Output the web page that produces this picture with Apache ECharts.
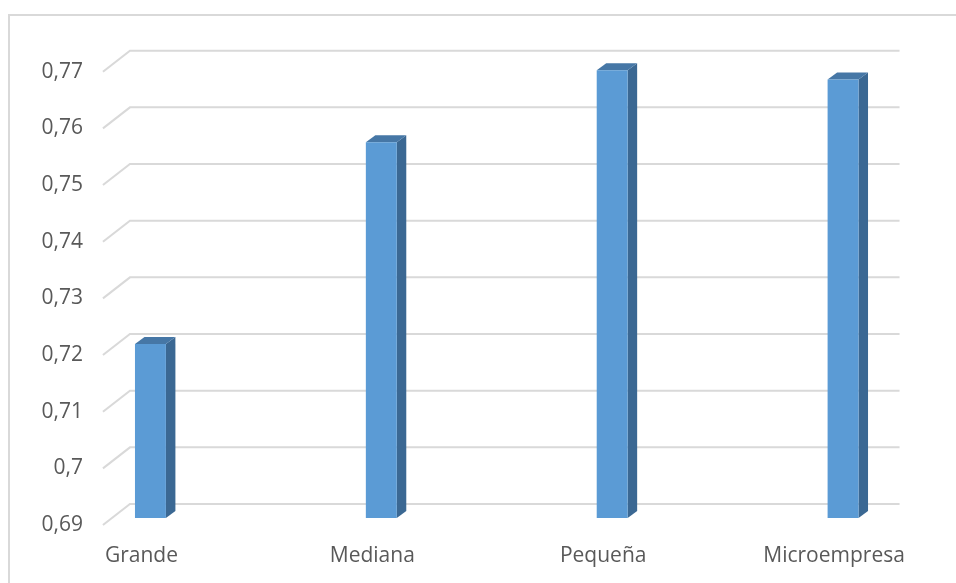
<!DOCTYPE html>
<html>
<head>
<meta charset="utf-8">
<script src="https://cdn.jsdelivr.net/npm/echarts@6/dist/echarts.min.js"></script>
<style>
  html, body { margin: 0; padding: 0; background: #ffffff; }
  #chart { width: 956px; height: 583px; }
</style>
</head>
<body>
<div id="chart"></div>
<script>
// Company size categories and their index values
const categories = ['Grande', 'Mediana', 'Pequeña', 'Microempresa'];
const values = [0.7207, 0.7563, 0.769, 0.7674];
const yTicks = [0.69, 0.70, 0.71, 0.72, 0.73, 0.74, 0.75, 0.76, 0.77];

const FONT = '"Open Sans", Lato, sans-serif';
const LABEL_COLOR = '#595959';
const GRID_COLOR = '#d9d9d9';

// 3D depth offsets (pixels): back wall and bar depth
const WALL_DX = 27, WALL_DY = -21;
const BAR_SHIFT_X = 9, BAR_SHIFT_Y = -7;
const BAR_DX = 9.5, BAR_DY = -7;

const chart = echarts.init(document.getElementById('chart'), null, { renderer: 'canvas' });

function gridLineItem(params, api) {
  const v = api.value(1);
  const band = api.size([1, 0])[0];
  const pL = api.coord([0, v]);
  const pR = api.coord([categories.length - 1, v]);
  const xL = pL[0] - band / 6;
  const xR = pR[0] + band / 6;
  const y = pL[1];
  return {
    type: 'polyline',
    shape: { points: [[xL, y], [xL + WALL_DX, y + WALL_DY], [xR + WALL_DX, y + WALL_DY]] },
    style: { stroke: GRID_COLOR, lineWidth: 2, fill: null },
    silent: true
  };
}

function barItem(params, api) {
  const i = api.value(0);
  const v = api.value(1);
  const band = api.size([1, 0])[0];
  const w = band * 0.134;
  const base = api.coord([i, yTicks[0]]);
  const top = api.coord([i, v]);
  const cx = base[0] + BAR_SHIFT_X;
  const x0 = cx - w / 2, x1 = cx + w / 2;
  const yb = base[1] + BAR_SHIFT_Y;
  const yt = top[1] + BAR_SHIFT_Y;
  return {
    type: 'group',
    children: [
      {
        type: 'polygon',
        shape: { points: [[x1, yt], [x1 + BAR_DX, yt + BAR_DY], [x1 + BAR_DX, yb + BAR_DY], [x1, yb]] },
        style: { fill: '#3b6893' }
      },
      {
        type: 'polygon',
        shape: { points: [[x0, yt], [x0 + BAR_DX, yt + BAR_DY], [x1 + BAR_DX, yt + BAR_DY], [x1, yt]] },
        style: { fill: '#4677a6' }
      },
      {
        type: 'rect',
        shape: { x: x0, y: yt, width: w, height: yb - yt },
        style: { fill: '#5b9bd5' }
      }
    ]
  };
}

chart.setOption({
  animation: false,
  backgroundColor: '#ffffff',
  grid: { left: 26, right: 6.5, top: 71.7, bottom: 58 },
  xAxis: {
    type: 'category',
    data: categories,
    axisLine: { show: false },
    axisTick: { show: false },
    axisLabel: { margin: 21, color: LABEL_COLOR, fontSize: 21, fontFamily: FONT }
  },
  yAxis: {
    type: 'value',
    min: 0.69,
    max: 0.77,
    interval: 0.01,
    offset: -57,
    axisLine: { show: false },
    axisTick: { show: false },
    splitLine: { show: false },
    axisLabel: {
      margin: 0,
      color: LABEL_COLOR,
      fontSize: 21,
      fontFamily: FONT,
      formatter: v => String(Number(v.toFixed(2))).replace('.', ',')
    }
  },
  graphic: [
    { type: 'line', shape: { x1: 8, y1: 15, x2: 956, y2: 15 }, style: { stroke: GRID_COLOR, lineWidth: 2 }, silent: true },
    { type: 'line', shape: { x1: 9, y1: 15, x2: 9, y2: 583 }, style: { stroke: GRID_COLOR, lineWidth: 2 }, silent: true }
  ],
  series: [
    {
      type: 'custom',
      renderItem: gridLineItem,
      data: yTicks.map(v => [0, v]),
      z: 1,
      silent: true
    },
    {
      type: 'custom',
      renderItem: barItem,
      data: values.map((v, i) => [i, v]),
      z: 2
    }
  ]
});
</script>
</body>
</html>
